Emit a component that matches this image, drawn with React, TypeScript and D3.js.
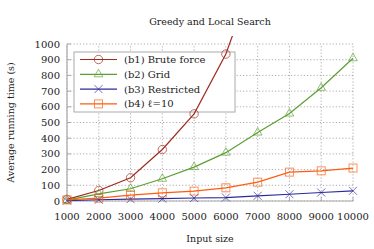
import React from 'react';
import * as d3 from 'd3';

const inputSizes = [1000, 2000, 3000, 4000, 5000, 6000, 7000, 8000, 9000, 10000];
const bruteForce = [10, 67, 148, 328, 555, 936, 1500];
const grid = [6, 45, 78, 142, 216, 308, 436, 557, 721, 909];
const restricted = [2, 8, 12, 15, 19, 22, 33, 43, 54, 65];
const ell10 = [7, 18, 38, 52, 63, 84, 120, 184, 192, 210];
const yTicks = [0, 100, 200, 300, 400, 500, 600, 700, 800, 900, 1000];

const seriesNames = ['(b1) Brute force', '(b2) Grid', '(b3) Restricted', '(b4) ℓ=10'];
const seriesColors = ['#a12a1e', '#5c9f31', '#2b2b9c', '#ff5c0f'];
const seriesMarks = ['circle', 'triangle', 'cross', 'square'];
const seriesValues = [bruteForce, grid, restricted, ell10];

const width = 374;
const height = 249;
const margin = { top: 44, right: 21, bottom: 48, left: 67 };
const font = 'DejaVu Serif';

const Marker: React.FC<{ kind: string; x: number; y: number; color: string }> = ({ kind, x, y, color }) => {
  const common = { fill: 'none', stroke: color, strokeWidth: 0.9, strokeOpacity: 0.75 };
  if (kind === 'circle') return <circle cx={x} cy={y} r={4.2} {...common} />;
  if (kind === 'triangle') {
    const r = 5;
    const pts = [
      [x, y - r],
      [x + r * 0.866, y + r * 0.5],
      [x - r * 0.866, y + r * 0.5],
    ];
    return <polygon points={pts.map((p) => p.join(',')).join(' ')} {...common} />;
  }
  if (kind === 'square') return <rect x={x - 4} y={y - 4} width={8} height={8} {...common} />;
  const s = 4;
  return <path d={`M${x - s},${y - s}L${x + s},${y + s}M${x - s},${y + s}L${x + s},${y - s}`} {...common} />;
};

const App: React.FC = () => {
  const x = d3.scaleLinear().domain([1000, 10000]).range([margin.left, width - margin.right]);
  const y = d3.scaleLinear().domain([0, 1000]).range([height - margin.bottom, margin.top]);
  const line = d3
    .line<number>()
    .x((_, i) => x(inputSizes[i]))
    .y((d) => y(d));

  const legendX = 74;
  const legendY = 52;

  return (
    <svg width={width} height={height} style={{ position: 'absolute', left: 0, top: 0, background: '#fff' }}>
      <defs>
        <clipPath id="plot-clip">
          <rect x={margin.left - 6} y={margin.top - 8} width={width - margin.left - margin.right + 12} height={height - margin.top - margin.bottom + 14} />
        </clipPath>
      </defs>
      <text x={210} y={25} textAnchor="middle" fontFamily={font} fontSize={9.5} fill="#222">
        Greedy and Local Search
      </text>

      {/* grid */}
      {yTicks.map((t) => (
        <line key={'gy' + t} x1={x(1000)} x2={x(10000)} y1={y(t)} y2={y(t)} stroke="#999" strokeWidth={0.8} strokeDasharray="1.2,2" />
      ))}
      {inputSizes.map((t) => (
        <line key={'gx' + t} x1={x(t)} x2={x(t)} y1={y(0)} y2={y(1000)} stroke="#999" strokeWidth={0.8} strokeDasharray="1.2,2" />
      ))}
      {inputSizes.map((t) => (
        <line key={'tx' + t} x1={x(t)} x2={x(t)} y1={y(0)} y2={y(0) - 4} stroke="#999" strokeWidth={0.8} />
      ))}
      {yTicks.map((t) => (
        <line key={'ty' + t} x1={x(1000)} x2={x(1000) + 4} y1={y(t)} y2={y(t)} stroke="#999" strokeWidth={0.8} />
      ))}
      <line x1={x(1000)} x2={x(1000)} y1={y(0)} y2={y(1000)} stroke="#aaa" strokeWidth={1.2} />
      <line x1={x(1000)} x2={x(10000)} y1={y(0)} y2={y(0)} stroke="#aaa" strokeWidth={1.2} />

      {/* tick labels */}
      {yTicks.map((t) => (
        <text key={'ly' + t} x={60} y={y(t)} dy="0.35em" textAnchor="end" fontFamily={font} fontSize={10} fill="#222">
          {t}
        </text>
      ))}
      {inputSizes.map((t) => (
        <text key={'lx' + t} x={x(t)} y={216} dy="0.35em" textAnchor="middle" fontFamily={font} fontSize={10} fill="#222">
          {t}
        </text>
      ))}

      <text x={210} y={239} dy="0.35em" textAnchor="middle" fontFamily={font} fontSize={9.5} fill="#222">
        Input size
      </text>
      <text transform={`translate(11,${(y(0) + y(1000)) / 2}) rotate(-90)`} dy="0.35em" textAnchor="middle" fontFamily={font} fontSize={9.5} fill="#222">
        Average running time (s)
      </text>

      {/* legend */}
      <rect x={legendX} y={legendY} width={161} height={60} fill="#fff" stroke="#aaa" strokeWidth={1} />
      {seriesNames.map((name, i) => {
        const ry = legendY + 7.5 + i * 14.8;
        return (
          <g key={'lg' + i}>
            <line x1={80} x2={117} y1={ry} y2={ry} stroke={seriesColors[i]} strokeWidth={1.2} />
            <Marker kind={seriesMarks[i]} x={98.5} y={ry} color={seriesColors[i]} />
            <text x={124} y={ry} dy="0.35em" fontFamily={font} fontSize={10} fill="#222">
              {name}
            </text>
          </g>
        );
      })}

      {/* series */}
      <g clipPath="url(#plot-clip)">
        {seriesValues.map((vals, si) => (
          <g key={'s' + si}>
            <path d={line(vals) || ''} fill="none" stroke={seriesColors[si]} strokeWidth={1.2} />
            {vals.map((v, i) =>
              v <= 1000 ? <Marker key={i} kind={seriesMarks[si]} x={x(inputSizes[i])} y={y(v)} color={seriesColors[si]} /> : null,
            )}
          </g>
        ))}
      </g>
    </svg>
  );
};

export default App;
